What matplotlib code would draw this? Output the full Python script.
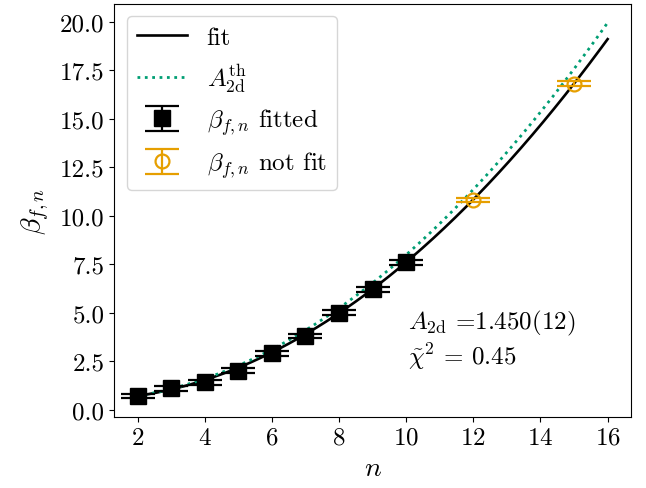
import numpy as np
import matplotlib
matplotlib.use("Agg")
import matplotlib.pyplot as plt

plt.rcParams["font.family"] = ["cmr10"]
plt.rcParams["mathtext.fontset"] = "cm"
plt.rcParams["axes.formatter.use_mathtext"] = True
plt.rcParams["font.size"] = 18

# measured beta_{f,n}
n_fit = [2, 3, 4, 5, 6, 7, 8, 9, 10]
beta_fit = [0.7, 1.1, 1.4, 2.0, 2.9, 3.8, 5.0, 6.2, 7.6]
err_fit = [0.12, 0.12, 0.12, 0.12, 0.12, 0.12, 0.12, 0.12, 0.12]

n_out = [12, 15]
beta_out = [10.8, 16.8]
err_out = [0.12, 0.12]

# quadratic coefficients (c0, c1, c2) of the fitted curve and of the theory curve
fit_coef = [0.481, -0.041, 0.0753]
th_coef = [0.43, -0.020, 0.0775]
n_range = [2, 16]

green = "#009E73"
orange = "#E69F00"

fig = plt.figure(figsize=(6.46, 4.89), dpi=100)
ax = fig.add_axes([0.1765, 0.145, 0.8005, 0.845])

nn = np.linspace(n_range[0], n_range[1], 300)
ax.plot(nn, np.polyval(fit_coef[::-1], nn), color="black", lw=1.9, label="fit")
ax.plot(nn, np.polyval(th_coef[::-1], nn), color=green, lw=2.0, ls=":",
        label=r"$A_{\rm 2d}^{\rm th}$")

ax.errorbar(n_fit, beta_fit, yerr=err_fit, fmt="s", color="black", ms=12,
            capsize=12, capthick=1.6, elinewidth=1.6,
            label=r"$\beta_{f,n}$ fitted")
ax.errorbar(n_out, beta_out, yerr=err_out, fmt="o", color=orange, ms=10,
            mfc="none", mew=1.6, capsize=12, capthick=1.6, elinewidth=1.6,
            label=r"$\beta_{f,n}$ not fit")

ax.set_xticks([2, 4, 6, 8, 10, 12, 14, 16])
ax.set_yticks([0.0, 2.5, 5.0, 7.5, 10.0, 12.5, 15.0, 17.5, 20.0])
ax.yaxis.set_major_formatter(matplotlib.ticker.FormatStrFormatter("%.1f"))
ax.tick_params(labelsize=18)

ax.set_xlabel(r"$n$", fontsize=20)
ax.set_ylabel(r"$\beta_{f,n}$", fontsize=20, labelpad=6)

ax.text(0.569, 0.228, r"$A_{\rm 2d}$ =1.450(12)", transform=ax.transAxes,
        fontsize=18, va="center", ha="left")
ax.text(0.569, 0.148, r"$\tilde{\chi}^2$ = 0.45", transform=ax.transAxes,
        fontsize=18, va="center", ha="left")

ax.legend(loc="upper left", fontsize=18)

fig.savefig("out.png", dpi=100)
